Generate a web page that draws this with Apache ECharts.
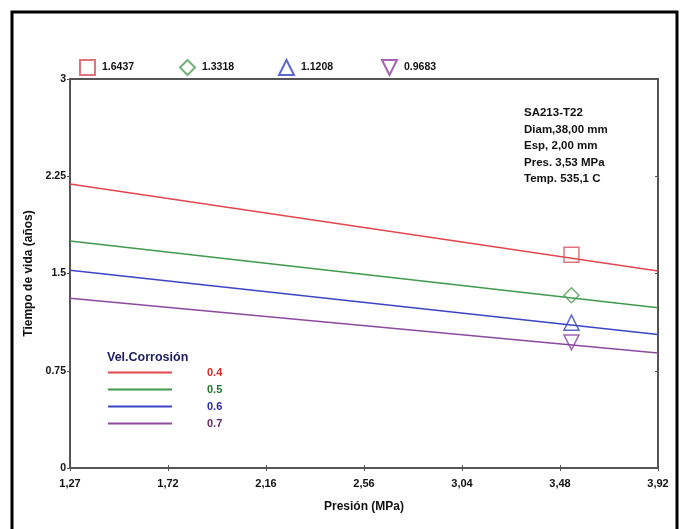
<!DOCTYPE html>
<html lang="es">
<head>
    <meta charset="UTF-8">
    <title>Tiempo de vida vs Presión</title>
    <script src="https://cdn.jsdelivr.net/npm/echarts@6/dist/echarts.min.js"></script>
    <style>
        html, body { margin: 0; padding: 0; background: #fff; }
    </style>
</head>
<body>
<div id="chart" style="width: 684px; height: 529px;"></div>

<script type="text/javascript">
    // data
    var presion = [1.27, 3.92];                         // x range of the curves
    var tickLabels = ['1,27', '1,72', '2,16', '2,56', '3,04', '3,48', '3,92'];
    var velCorrosion = ['0.4', '0.5', '0.6', '0.7'];
    var vida04 = [2.19, 1.52];
    var vida05 = [1.75, 1.235];
    var vida06 = [1.525, 1.03];
    var vida07 = [1.31, 0.886];
    var presOperacion = 3.53;
    var vidaOperacion = ['1.6437', '1.3318', '1.1208', '0.9683'];

    var lineColors = ['#e2474b', '#3f9a4c', '#3b46c6', '#8b4a9e'];
    var labelColors = ['#d42a2a', '#23742e', '#2a2aa6', '#6a2a6a'];
    var markColors = ['#d8505c', '#4d9c55', '#3442c2', '#8c3c9c'];
    var markSymbols = ['rect', 'diamond', 'triangle', 'path://M0,0 L10,0 L5,10 Z'];
    var legendLeft = [79, 179, 278, 381];

    var font = '"Liberation Sans", Arial, sans-serif';

    // evenly spaced tick values matching the printed labels
    var tickVals = tickLabels.map(function (t, i) {
        return presion[0] + i * (presion[1] - presion[0]) / (tickLabels.length - 1);
    });

    var vidas = [vida04, vida05, vida06, vida07];

    var series = [];
    vidas.forEach(function (v, i) {
        series.push({
            name: velCorrosion[i],
            type: 'line',
            symbol: 'none',
            silent: true,
            color: lineColors[i],
            lineStyle: { color: lineColors[i], width: 1.5 },
            data: presion.map(function (p, j) { return [p, v[j]]; })
        });
    });
    vidaOperacion.forEach(function (v, i) {
        series.push({
            name: v,
            type: 'scatter',
            symbol: markSymbols[i],
            symbolSize: 15,
            itemStyle: { color: 'rgba(255,255,255,0)', borderColor: markColors[i], borderWidth: 1.5 },
            z: 5,
            data: [[presOperacion, parseFloat(v)]]
        });
    });

    var legends = vidaOperacion.map(function (v, i) {
        return {
            left: legendLeft[i],
            top: 59,
            padding: 0,
            itemWidth: 15,
            itemHeight: 15,
            itemGap: 0,
            selectedMode: false,
            data: [v],
            textStyle: { fontFamily: font, fontWeight: 'bold', fontSize: 10.5, color: '#111', padding: [0, 0, 0, 2] }
        };
    });
    legends.push({
        orient: 'vertical',
        left: 108,
        top: 366,
        padding: 0,
        icon: 'rect',
        itemWidth: 64,
        itemHeight: 2,
        itemGap: 4,
        selectedMode: false,
        data: velCorrosion.map(function (n, i) {
            return { name: n, textStyle: { color: labelColors[i] } };
        }),
        textStyle: { fontFamily: font, fontWeight: 'bold', fontSize: 11, lineHeight: 13, padding: [0, 0, 0, 30] }
    });

    var myChart = echarts.init(document.getElementById('chart'));

    var option = {
        animation: false,
        backgroundColor: '#fff',
        grid: {
            left: 70, right: 26, top: 79, bottom: 61,
            show: true, borderColor: '#555', borderWidth: 2
        },
        legend: legends,
        title: [{
            text: 'Vel.Corrosión',
            left: 107, top: 351, padding: 0,
            textStyle: { fontFamily: font, fontWeight: 'bold', fontSize: 12.5, color: '#1c1c5e' }
        }, {
            text: 'SA213-T22\nDiam,38,00 mm\nEsp, 2,00 mm\nPres. 3,53 MPa\nTemp. 535,1 C',
            left: 524, top: 105, padding: 0,
            textStyle: { fontFamily: font, fontWeight: 'bold', fontSize: 11.5, lineHeight: 16.5, color: '#111' }
        }],
        graphic: [{
            type: 'rect',
            shape: { x: 12, y: 12, width: 665, height: 530 },
            style: { fill: 'none', stroke: '#000', lineWidth: 3 },
            silent: true
        }],
        xAxis: [{
            type: 'value',
            min: presion[0],
            max: presion[1],
            name: 'Presión (MPa)',
            nameLocation: 'middle',
            nameGap: 33,
            nameTextStyle: { fontFamily: font, fontWeight: 'bold', fontSize: 12, color: '#111' },
            splitLine: { show: false },
            axisLine: { lineStyle: { color: '#555', width: 2 } },
            axisTick: { inside: true, length: 3, customValues: tickVals, lineStyle: { color: '#555' } },
            axisLabel: {
                customValues: tickVals,
                margin: 10,
                fontFamily: font, fontWeight: 'bold', fontSize: 11, color: '#111',
                formatter: function (val) {
                    var k = Math.round((val - presion[0]) / (presion[1] - presion[0]) * (tickLabels.length - 1));
                    return tickLabels[k];
                }
            }
        }, {
            type: 'value',
            position: 'top',
            min: presion[0],
            max: presion[1],
            splitLine: { show: false },
            axisLine: { lineStyle: { color: '#555', width: 2 } },
            axisTick: { inside: true, length: 3, customValues: tickVals, lineStyle: { color: '#555' } },
            axisLabel: { show: false }
        }],
        yAxis: [{
            type: 'value',
            min: 0,
            max: 3,
            interval: 0.75,
            name: 'Tiempo de vida (años)',
            nameLocation: 'middle',
            nameGap: 31,
            nameTextStyle: { fontFamily: font, fontWeight: 'bold', fontSize: 12, color: '#111' },
            splitLine: { show: false },
            axisLine: { show: true, lineStyle: { color: '#555', width: 2 } },
            axisTick: { show: true, length: 3, lineStyle: { color: '#555' } },
            axisLabel: {
                margin: 4,
                fontFamily: font, fontWeight: 'bold', fontSize: 10.5, color: '#111',
                formatter: function (v) { return String(v); }
            }
        }, {
            type: 'value',
            position: 'right',
            min: 0,
            max: 3,
            interval: 0.75,
            splitLine: { show: false },
            axisLine: { show: true, lineStyle: { color: '#555', width: 2 } },
            axisTick: { show: true, inside: true, length: 3, lineStyle: { color: '#555' } },
            axisLabel: { show: false }
        }],
        series: series
    };

    myChart.setOption(option);
</script>
</body>
</html>
